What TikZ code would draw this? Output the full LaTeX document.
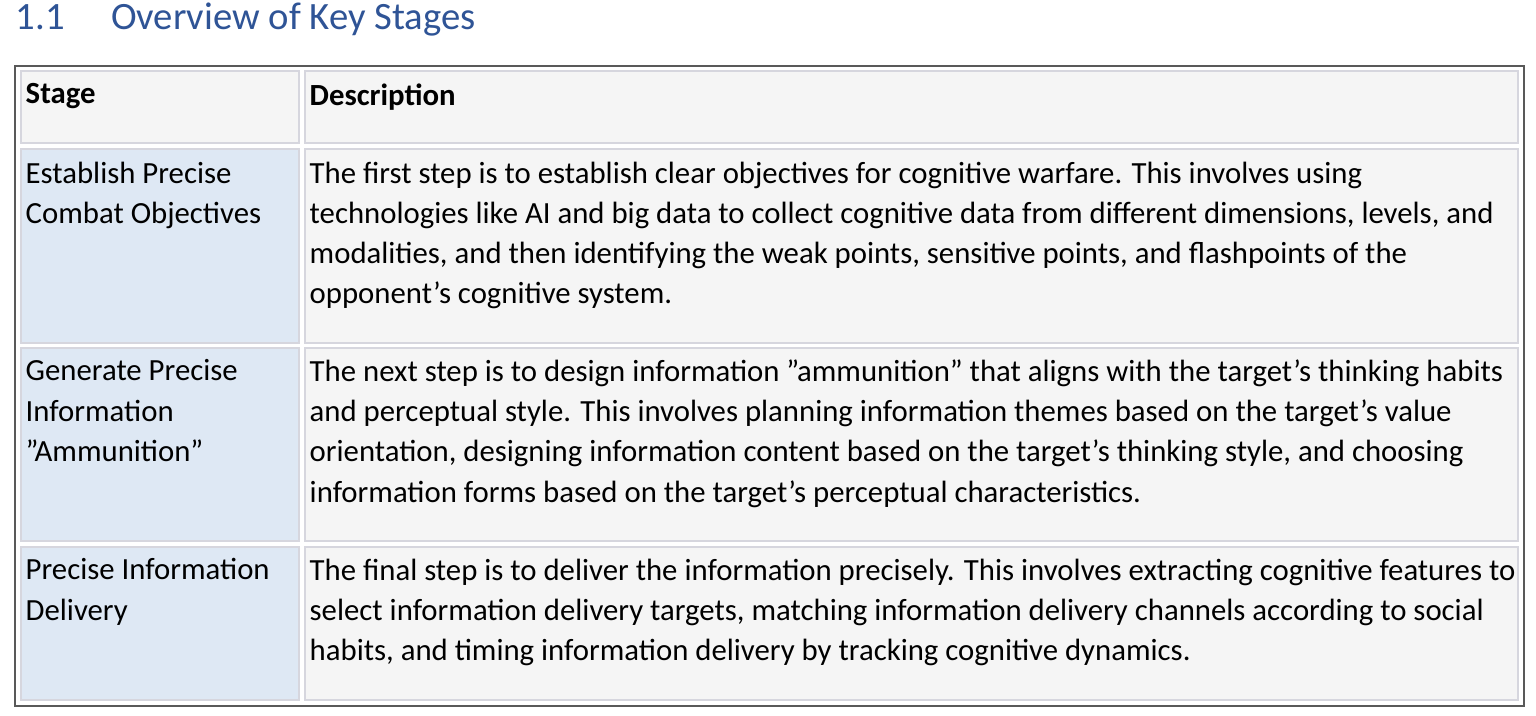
\documentclass[tikz,border=0pt]{standalone}
\usepackage{fontspec}
\setmainfont{Carlito}
\usetikzlibrary{positioning}
\definecolor{headblue}{HTML}{2F5496}
\definecolor{stagefill}{HTML}{DEE8F4}
\definecolor{descfill}{HTML}{F5F5F5}
\definecolor{cellline}{HTML}{D6D6DE}
\newcommand{\dq}{\symbol{34}}
\newcommand{\ap}{\symbol{39}}
\begin{document}
\begin{tikzpicture}[x=0.01cm,y=-0.01cm]
		\tikzstyle{Stage} = [draw=cellline, line width=0.6pt, fill=stagefill]
		\tikzstyle{Desc} = [draw=cellline, line width=0.6pt, fill=descfill]
		\tikzstyle{Txt} = [anchor=north west, inner sep=0pt, align=left, font=\fontsize{8.75pt}{11.45pt}\selectfont]
		
		\useasboundingbox (0,0) rectangle (1536,716);
		\node (title) [anchor=west, inner sep=0pt, text=headblue, font=\fontsize{11pt}{13pt}\selectfont] at (15,20) {1.1\hspace{1.2em}Overview of Key Stages};
		
		\draw [gray!70!black, line width=0.5pt] (15,66) rectangle (1524,706);
		\draw [Desc] (21,71) rectangle (299,143);
		\draw [Desc] (305,71) rectangle (1518,143);
		\draw [Stage] (21,149) rectangle (299,343);
		\draw [Desc] (305,149) rectangle (1518,343);
		\draw [Stage] (21,348) rectangle (299,541);
		\draw [Desc] (305,348) rectangle (1518,541);
		\draw [Stage] (21,547) rectangle (299,700);
		\draw [Desc] (305,547) rectangle (1518,700);
		
		\node (hstage) [Txt, font=\fontsize{8.75pt}{11.45pt}\selectfont\bfseries] at (25,83) {Stage};
		\node (hdesc) [Txt, font=\fontsize{8.75pt}{11.45pt}\selectfont\bfseries] at (309,83) {Description};
		
		\node (stage1) [Txt] at (25,161) {Establish Precise\\Combat Objectives};
		\node (desc1) [Txt] at (309,161) {The first step is to establish clear objectives for cognitive warfare. This involves using\\technologies like AI and big data to collect cognitive data from different dimensions, levels, and\\modalities, and then identifying the weak points, sensitive points, and flashpoints of the\\opponent\ap s cognitive system.};
		
		\node (stage2) [Txt] at (25,359) {Generate Precise\\Information\\\dq Ammunition\dq};
		\node (desc2) [Txt] at (309,359) {The next step is to design information \dq ammunition\dq{} that aligns with the target\ap s thinking habits\\and perceptual style. This involves planning information themes based on the target\ap s value\\orientation, designing information content based on the target\ap s thinking style, and choosing\\information forms based on the target\ap s perceptual characteristics.};
		
		\node (stage3) [Txt] at (25,558) {Precise Information\\Delivery};
		\node (desc3) [Txt] at (309,558) {The final step is to deliver the information precisely. This involves extracting cognitive features to\\select information delivery targets, matching information delivery channels according to social\\habits, and timing information delivery by tracking cognitive dynamics.};
\end{tikzpicture}
\end{document}
